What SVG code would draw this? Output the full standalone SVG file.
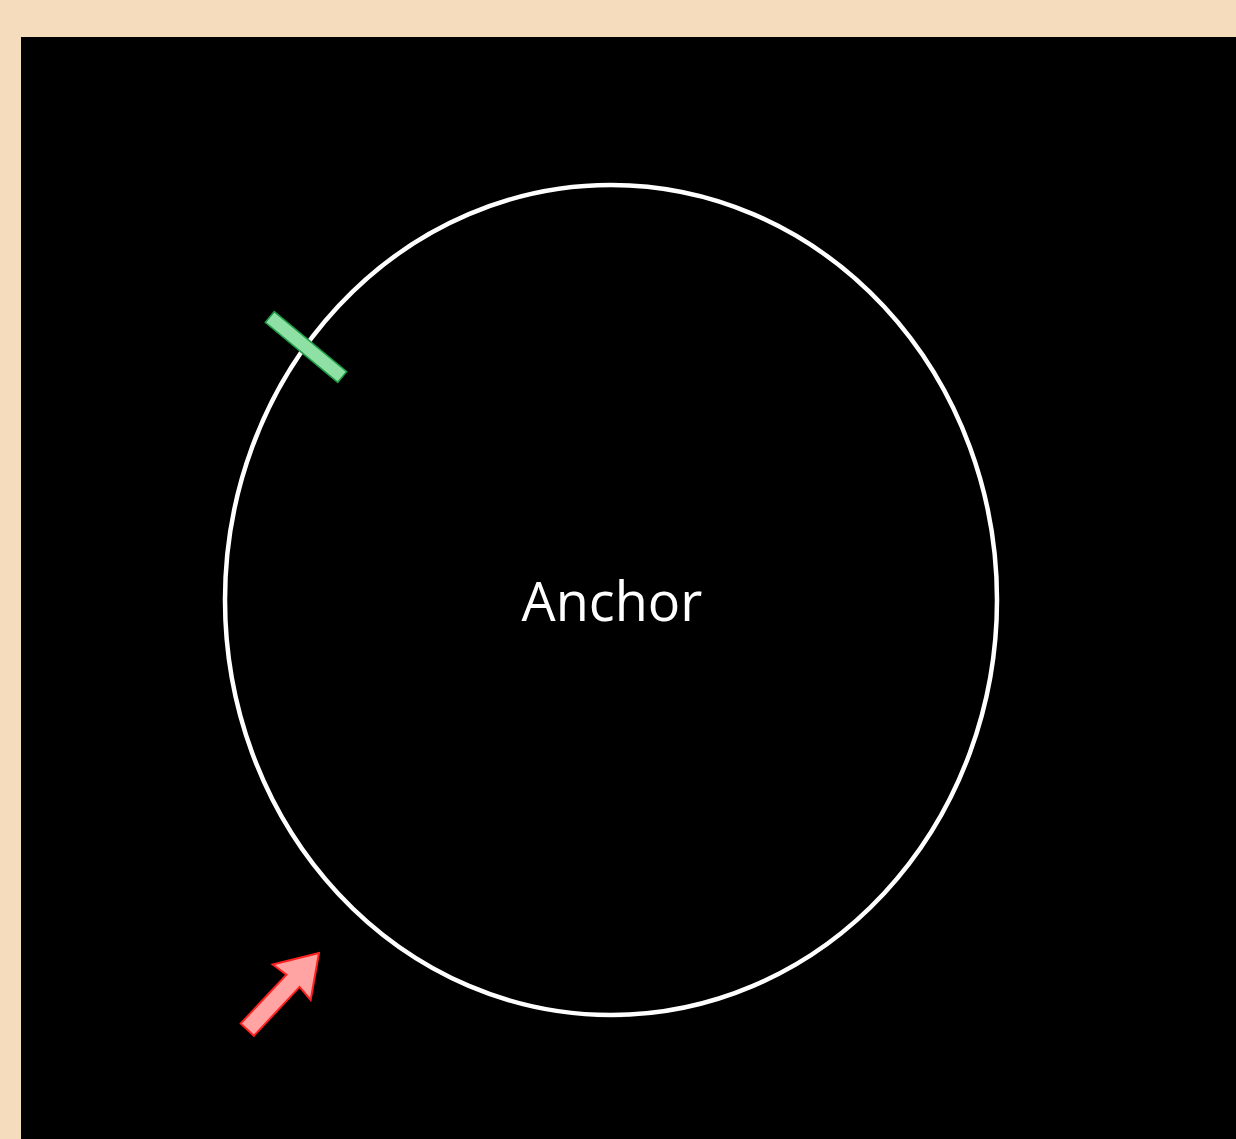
<svg xmlns="http://www.w3.org/2000/svg" width="1236" height="1139" viewBox="0 0 1236 1139">
<style>
.lbl{font-family:"Open Sans","Noto Sans",sans-serif;font-size:54px;fill:#ffffff;text-anchor:middle}
</style>
<rect x="0" y="0" width="1236" height="1139" fill="#f5dcbc"/>
<rect x="21" y="37" width="1215" height="1102" fill="#000000"/>
<g id="anchor">
<ellipse cx="611" cy="600" rx="386" ry="415" fill="none" stroke="#ffffff" stroke-width="4.5"/>
<text class="lbl" x="612" y="621">Anchor</text>
</g>
<g id="connectors">
<g id="green-mark" transform="translate(306,347) rotate(39.6)">
<rect x="-47" y="-7" width="94" height="14" fill="#8fe0a4" stroke="#1d9c45" stroke-width="1.5"/>
</g>
<g id="red-arrow" transform="translate(319,953) rotate(-46.9)">
<polygon points="0,0 -40,-26 -38,-9 -105,-9 -105,9 -38,9 -40,26" fill="#ffa3a3" stroke="#ff2020" stroke-width="2" stroke-linejoin="miter"/>
</g>
</g>
</svg>
